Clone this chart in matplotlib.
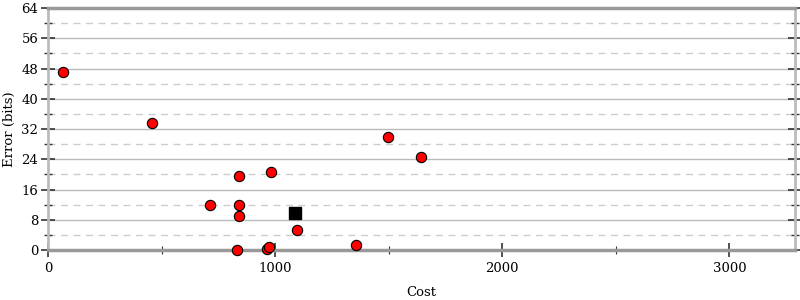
import matplotlib
matplotlib.use("Agg")
import matplotlib.pyplot as plt
from matplotlib.ticker import MultipleLocator

plt.rcParams['font.family'] = ['DejaVu Serif']

cost = [66, 458, 841, 982, 714, 841, 841, 1097, 833, 965, 975, 1357, 1498, 1643]
error = [47.1, 33.6, 19.6, 20.7, 11.9, 11.9, 9.0, 5.3, 0.0, 0.2, 0.8, 1.3, 29.9, 24.5]
best_cost = [1088]
best_error = [9.7]

fig = plt.figure(figsize=(8, 3), dpi=100)
ax = fig.add_axes([0.06, 0.1667, 0.934, 0.8063])

ax.set_xlim(0, 3290)
ax.set_ylim(0, 64)
ax.xaxis.set_major_locator(MultipleLocator(1000))
ax.xaxis.set_minor_locator(MultipleLocator(500))
ax.yaxis.set_major_locator(MultipleLocator(8))
ax.yaxis.set_minor_locator(MultipleLocator(4))

ax.grid(True, which='major', axis='y', color='#bbbbbb', linewidth=1, linestyle='-')
ax.grid(True, which='minor', axis='y', color='#cccccc', linewidth=1, linestyle=(0, (5, 4)))
ax.set_axisbelow(True)

for s in ['left', 'right']:
    ax.spines[s].set_color('#bbbbbb')
    ax.spines[s].set_linewidth(2)
for s in ['top', 'bottom']:
    ax.spines[s].set_color('#999999')
    ax.spines[s].set_linewidth(2.5)

ax.tick_params(axis='y', which='both', left=True, right=True, direction='inout', color='#333333')
ax.tick_params(axis='y', which='major', length=10, width=1.2, labelsize=9.5, pad=2)
ax.tick_params(axis='y', which='minor', length=6, width=1)
ax.tick_params(axis='x', which='both', bottom=True, top=False, direction='inout', color='#333333')
ax.tick_params(axis='x', which='major', length=10, width=1.2, labelsize=9.5)
ax.tick_params(axis='x', which='minor', length=6, width=0.8)

ax.scatter(cost, error, s=55, c='#ff0000', edgecolors='#000000', linewidths=0.8, zorder=3, clip_on=False)
ax.scatter(best_cost, best_error, s=80, marker='s', c='#000000', edgecolors='#000000', zorder=3)

ax.set_xlabel('Cost', fontsize=9.5, labelpad=8)
ax.set_ylabel('Error (bits)', fontsize=9.5, labelpad=4)

fig.savefig('out.png', dpi=100)
